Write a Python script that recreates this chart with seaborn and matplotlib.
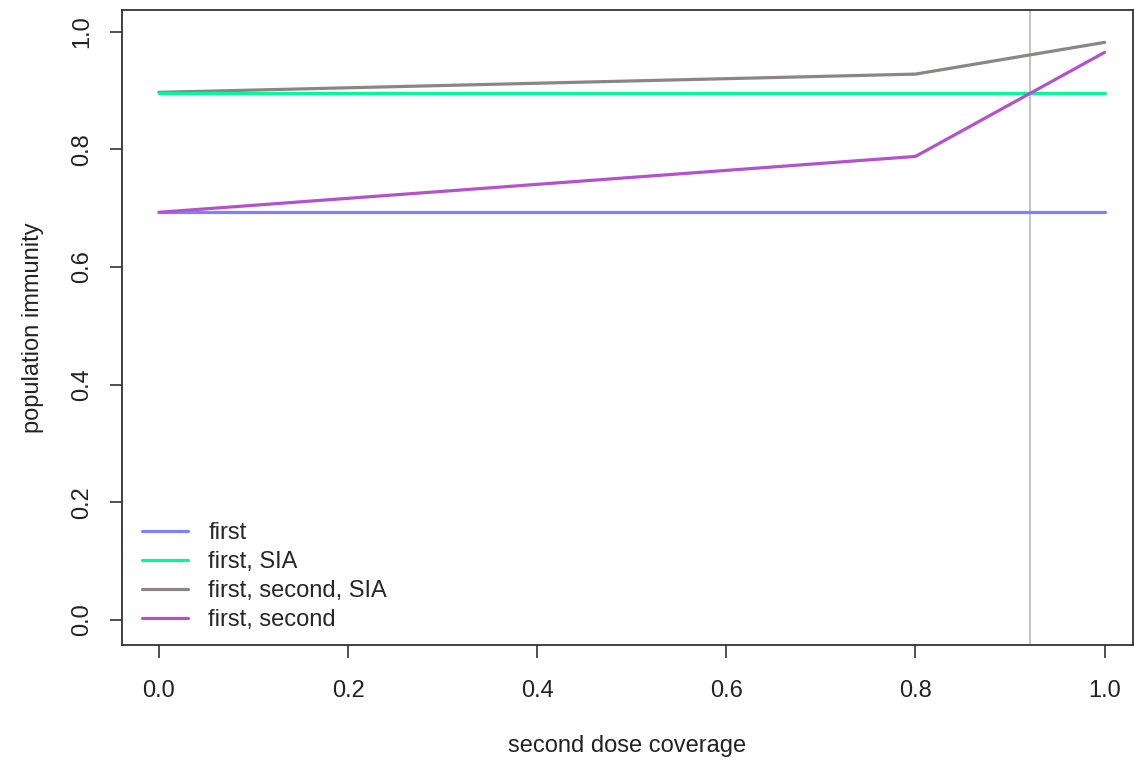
import matplotlib
matplotlib.use("Agg")
import matplotlib.pyplot as plt
import seaborn as sns
import pandas as pd

sns.set_theme(style="white")
plt.rcParams["font.family"] = ["Liberation Sans", "DejaVu Sans"]

# second dose coverage breakpoints and population immunity for each scenario
coverage = [0.0, 0.8, 1.0]
first = [0.693, 0.693, 0.693]
first_sia = [0.896, 0.896, 0.896]
first_second_sia = [0.897, 0.928, 0.982]
first_second = [0.693, 0.788, 0.965]
target_coverage = 0.921

series_names = ["first", "first, SIA", "first, second, SIA", "first, second"]
series_values = [first, first_sia, first_second_sia, first_second]
colors = ["#8080FF", "#00FA9A", "#8B8682", "#B452CD"]
tick_values = [0.0, 0.2, 0.4, 0.6, 0.8, 1.0]
tick_labels = ["0.0", "0.2", "0.4", "0.6", "0.8", "1.0"]

df = pd.concat(
    [pd.DataFrame({"coverage": coverage, "immunity": v, "scenario": n})
     for n, v in zip(series_names, series_values)],
    ignore_index=True,
)

FS = 17
fig = plt.figure(figsize=(11.34, 7.6), dpi=100)
ax = fig.add_axes([0.1076, 0.1513, 0.8915, 0.8355])

ax.axvline(target_coverage, color="#BEBEBE", lw=1.3, zorder=1)

# draw order keeps green over the hidden start of the grey line
draw_order = ["first, second, SIA", "first", "first, SIA", "first, second"]
for name in draw_order:
    sub = df[df["scenario"] == name]
    c = colors[series_names.index(name)]
    sns.lineplot(data=sub, x="coverage", y="immunity", color=c, lw=2.3,
                 ax=ax, legend=False, zorder=3)

handles = [plt.Line2D([], [], color=c, lw=2.3) for c in colors]
ax.legend(handles, series_names, loc="lower left", frameon=False,
          fontsize=FS, handlelength=1.95, handletextpad=0.85,
          labelspacing=0.3, borderpad=0, borderaxespad=0,
          bbox_to_anchor=(0.0198, 0.022))

ax.set_xlim(-0.039, 1.03)
ax.set_ylim(-0.043, 1.037)
ax.set_xticks(tick_values)
ax.set_yticks(tick_values)
ax.set_xticklabels(tick_labels, fontsize=FS)
ax.set_yticklabels(tick_labels, fontsize=FS, rotation=90, va="center")
ax.tick_params(axis="both", direction="out", length=9, width=1.2,
               color="#333333", labelcolor="#222222", bottom=True, left=True)
ax.tick_params(axis="x", pad=16)
ax.tick_params(axis="y", pad=12)
for s in ax.spines.values():
    s.set_color("#333333")
    s.set_linewidth(1.3)

ax.set_xlabel("second dose coverage", fontsize=FS, color="#222222", labelpad=24)
ax.set_ylabel("population immunity", fontsize=FS, color="#222222", labelpad=19)

fig.savefig("out.png", dpi=100)
